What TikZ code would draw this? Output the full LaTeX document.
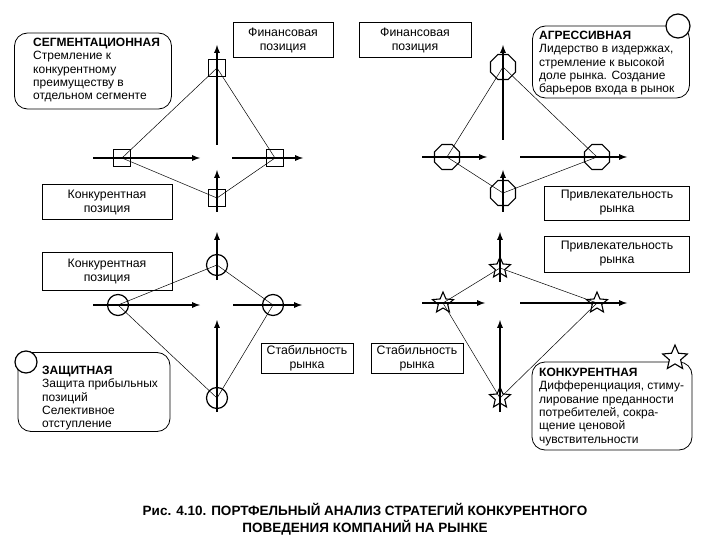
\documentclass[tikz,border=0pt]{standalone}
\usepackage{fontspec}
\setmainfont{Liberation Sans}
\usetikzlibrary{shapes.geometric}

\tikzset{
  box/.style={draw, line width=0.8pt, align=center, inner sep=2pt,
    font=\fontsize{12.3}{14}\selectfont},
  strat/.style={draw, line width=0.8pt, rounded corners=13pt},
  strattext/.style={align=left, inner sep=0pt, anchor=north west,
    font=\fontsize{12}{13.3}\selectfont},
  axis/.style={-latex, line width=1.7pt},
  link/.style={line width=0.5pt},
  sq/.style={draw, line width=1.2pt, minimum size=17pt, inner sep=0pt},
  oct/.style={draw, line width=1.2pt, regular polygon, regular polygon sides=8,
    minimum size=27pt, inner sep=0pt},
  circ/.style={draw, line width=1.2pt, circle, minimum size=21pt, inner sep=0pt},
  starmark/.style={draw, line width=1.1pt, star, star points=5,
    star point ratio=2.2, minimum size=22pt, inner sep=0pt}
}

\begin{document}
\begin{tikzpicture}[x=1pt,y=-1pt]
\useasboundingbox (0,0) rectangle (720,540);

% Labels
\node[box, minimum width=100pt, minimum height=35pt] (fin1) at (283,40) {Финансовая\\позиция};
\node[box, minimum width=112pt, minimum height=35pt] (fin2) at (415,40) {Финансовая\\позиция};
\node[box, minimum width=130pt, minimum height=35pt] (konk1) at (107,202) {Конкурентная\\позиция};
\node[box, minimum width=130pt, minimum height=38pt] (konk2) at (107,271) {Конкурентная\\позиция};
\node[box, minimum width=145pt, minimum height=34pt] (priv1) at (617,203) {Привлекательность\\рынка};
\node[box, minimum width=145pt, minimum height=36pt] (priv2) at (617,254) {Привлекательность\\рынка};
\node[box, minimum width=92pt, minimum height=30pt] (stab1) at (307,358) {Стабильность\\рынка};
\node[box, minimum width=92pt, minimum height=30pt] (stab2) at (417,358) {Стабильность\\рынка};

% Strategies
\node[strat, minimum width=157pt, minimum height=76pt] (segm) at (93,71) {};
\node[strattext] (segmtxt) at (33,38)
  {\textbf{СЕГМЕНТАЦИОННАЯ}\\Стремление к\\конкурентному\\преимуществу в\\отдельном сегменте};
\node[strat, minimum width=157pt, minimum height=72pt] (aggr) at (611,62) {};
\node[strattext] (aggrtxt) at (539,31)
  {\textbf{АГРЕССИВНАЯ}\\Лидерство в издержках,\\стремление к высокой\\доле рынка. Создание\\барьеров входа в рынок};
\node[strat, minimum width=152pt, minimum height=79pt] (zasch) at (94,392) {};
\node[strattext] (zaschtxt) at (42,366)
  {\textbf{ЗАЩИТНАЯ}\\Защита прибыльных\\позиций\\Селективное\\отступление};
\node[strat, minimum width=160pt, minimum height=88pt] (konkur) at (612,406) {};
\node[strattext] (konkurtxt) at (539,368)
  {\textbf{КОНКУРЕНТНАЯ}\\Дифференциация, стиму-\\лирование преданности\\потребителей, сокра-\\щение ценовой\\чувствительности};
\node[circ, fill=white, minimum size=24pt] (aggrm) at (678,26) {};
\node[circ, fill=white, minimum size=22pt] (zaschm) at (26,362) {};
\node[starmark, fill=white, minimum size=26pt] (konkurm) at (675,358) {};

% Segmentation (squares)
\coordinate (s1a) at (217,145); \coordinate (s1b) at (217,45);
\coordinate (s2a) at (93,158);  \coordinate (s2b) at (200,158);
\coordinate (s3a) at (232,158); \coordinate (s3b) at (303,158);
\coordinate (s4a) at (217,212); \coordinate (s4b) at (217,170);
\draw[axis] (s1a) -- (s1b);
\draw[axis] (s2a) -- (s2b);
\draw[axis] (s3a) -- (s3b);
\draw[axis] (s4a) -- (s4b);
\node[sq] (sT) at (217,68) {};
\node[sq] (sL) at (122,158) {};
\node[sq] (sR) at (275,158) {};
\node[sq] (sB) at (217,198) {};
\draw[link] (sT.center) -- (sL.center) -- (sB.center) -- (sR.center) -- (sT.center);

% Aggressive (octagons)
\coordinate (o1a) at (503,140); \coordinate (o1b) at (503,45);
\coordinate (o2a) at (422,157); \coordinate (o2b) at (487,157);
\coordinate (o3a) at (520,157); \coordinate (o3b) at (627,157);
\coordinate (o4a) at (503,212); \coordinate (o4b) at (503,170);
\draw[axis] (o1a) -- (o1b);
\draw[axis] (o2a) -- (o2b);
\draw[axis] (o3a) -- (o3b);
\draw[axis] (o4a) -- (o4b);
\node[oct] (oT) at (503,67) {};
\node[oct] (oL) at (447,157) {};
\node[oct] (oR) at (597,157) {};
\node[oct] (oB) at (503,193) {};
\draw[link] (oT.center) -- (oL.center) -- (oB.center) -- (oR.center) -- (oT.center);

% Protective (circles)
\coordinate (c1a) at (217,280); \coordinate (c1b) at (217,232);
\coordinate (c2a) at (93,305);  \coordinate (c2b) at (200,305);
\coordinate (c3a) at (233,305); \coordinate (c3b) at (302,305);
\coordinate (c4a) at (217,412); \coordinate (c4b) at (217,320);
\draw[axis] (c1a) -- (c1b);
\draw[axis] (c2a) -- (c2b);
\draw[axis] (c3a) -- (c3b);
\draw[axis] (c4a) -- (c4b);
\node[circ] (cT) at (217,265) {};
\node[circ] (cL) at (118,305) {};
\node[circ] (cR) at (273,305) {};
\node[circ] (cB) at (217,398) {};
\draw[link] (cT.center) -- (cL.center) -- (cB.center) -- (cR.center) -- (cT.center);

% Competitive (stars)
\coordinate (z1a) at (500,282); \coordinate (z1b) at (500,232);
\coordinate (z2a) at (422,303); \coordinate (z2b) at (485,303);
\coordinate (z3a) at (520,303); \coordinate (z3b) at (627,303);
\coordinate (z4a) at (500,412); \coordinate (z4b) at (500,320);
\draw[axis] (z1a) -- (z1b);
\draw[axis] (z2a) -- (z2b);
\draw[axis] (z3a) -- (z3b);
\draw[axis] (z4a) -- (z4b);
\node[starmark] (zT) at (500,268) {};
\node[starmark] (zL) at (443,303) {};
\node[starmark] (zR) at (597,303) {};
\node[starmark] (zB) at (500,398) {};
\draw[link] (zT.center) -- (zL.center) -- (zB.center) -- (zR.center) -- (zT.center);

% Caption
\node[align=center, font=\fontsize{13.5}{17}\selectfont\bfseries] (cap) at (365,519)
  {Рис. 4.10. ПОРТФЕЛЬНЫЙ АНАЛИЗ СТРАТЕГИЙ КОНКУРЕНТНОГО\\ПОВЕДЕНИЯ КОМПАНИЙ НА РЫНКЕ};

\end{tikzpicture}
\end{document}
